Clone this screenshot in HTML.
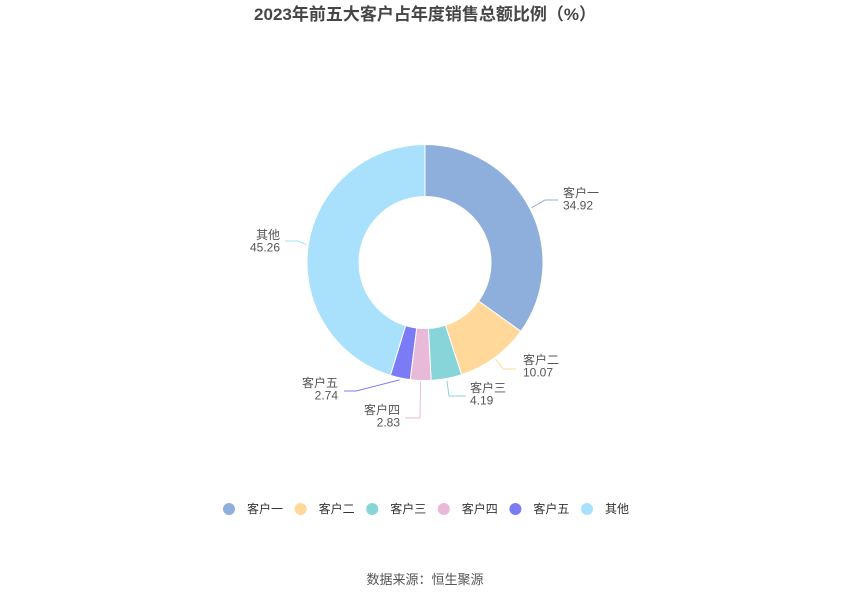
<!DOCTYPE html>
<html><head><meta charset="utf-8"><style>
body{margin:0;background:#fff;font-family:"Liberation Sans","Noto Sans CJK SC",sans-serif}
svg text{font-family:"Liberation Sans","Noto Sans CJK SC",sans-serif}
</style></head><body>
<svg width="850" height="600">
<text x="425" y="20" text-anchor="middle" font-size="17" font-weight="bold" fill="#464646">2023年前五大客户占年度销售总额比例（%）</text>
<g id="pie"></g>
<g id="labels"></g>
<g id="legend"></g>
<text x="425" y="584" text-anchor="middle" font-size="13" fill="#555">数据来源：恒生聚源</text>
</svg>
<script>
const categories=["客户一","客户二","客户三","客户四","客户五","其他"];
const values=[34.92,10.07,4.19,2.83,2.74,45.26];
const colors=["#8eaedb","#ffd89a","#87d5d8","#e8b9d9","#7b7cf5","#a9e0fb"];
// label layout: [textX, textY1, anchor, elbowX, elbowY, endX]
const layout=[[563,197,"start",545,200,558],[523,364,"start",503,369,516],[470,392,"start",449,396,466],[400,414,"end",420,418,405],[338,387,"end",356,391,344],[280,239,"end",298,241,285]];
const NS="http://www.w3.org/2000/svg";
const cx=425,cy=262.5,R=118,r=66;
const total=values.reduce((a,b)=>a+b,0);
const pie=document.getElementById('pie'),lab=document.getElementById('labels'),leg=document.getElementById('legend');
function pt(a,rad){return [cx+rad*Math.sin(a),cy-rad*Math.cos(a)];}
let acc=0;
values.forEach((v,i)=>{
 const a0=acc/total*2*Math.PI;acc+=v;const a1=acc/total*2*Math.PI;
 const big=(a1-a0)>Math.PI?1:0;
 const p0=pt(a0,R),p1=pt(a1,R),q1=pt(a1,r),q0=pt(a0,r);
 const p=document.createElementNS(NS,'path');
 p.setAttribute('d',`M${p0}A${R},${R} 0 ${big} 1 ${p1}L${q1}A${r},${r} 0 ${big} 0 ${q0}Z`);
 p.setAttribute('fill',colors[i]);p.setAttribute('stroke','#fff');p.setAttribute('stroke-width','1');
 
 
 pie.appendChild(p);
 const am=(a0+a1)/2,s=pt(am,R+2),L=layout[i];
 const l=document.createElementNS(NS,'polyline');
 l.setAttribute('points',`${s} ${L[3]},${L[4]} ${L[5]},${L[4]}`);
 l.setAttribute('fill','none');l.setAttribute('stroke',colors[i]);
 
 
 lab.appendChild(l);
 [categories[i],v.toFixed(2)].forEach((t,k)=>{
  const tx=document.createElementNS(NS,'text');
  tx.setAttribute('x',L[0]);tx.setAttribute('y',L[1]+k*12.5);tx.setAttribute('text-anchor',L[2]);
  tx.setAttribute('font-size','12');tx.setAttribute('fill','#555');tx.textContent=t;
  
  
  lab.appendChild(tx);
 });
 const lx=229+i*71.6;
 const g=document.createElementNS(NS,'g');
 
 
 const c=document.createElementNS(NS,'circle');c.setAttribute('cx',lx);c.setAttribute('cy',509);c.setAttribute('r',6);c.setAttribute('fill',colors[i]);
 g.appendChild(c);
 const t=document.createElementNS(NS,'text');t.setAttribute('x',lx+18);t.setAttribute('y',513);t.setAttribute('font-size','12');t.setAttribute('fill','#333');t.textContent=categories[i];
 g.appendChild(t);leg.appendChild(g);
});
</script>
</body></html>
